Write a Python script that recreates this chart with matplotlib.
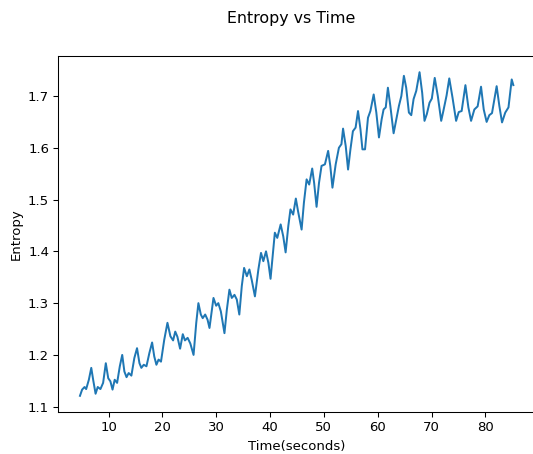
import matplotlib
matplotlib.use("Agg")
import matplotlib.pyplot as plt

time_s = [
    4.7, 5.1, 5.55, 5.85, 6.35, 6.8, 7.15, 7.6, 8.0, 8.5, 9.0, 9.5, 9.95, 10.35, 10.75,
    11.15, 11.6, 12.1, 12.55, 12.95, 13.35, 13.75, 14.25, 14.8, 15.3, 15.75, 16.1, 16.55,
    17.05, 17.6, 18.1, 18.5, 18.9, 19.3, 19.75, 20.35, 20.95, 21.5, 22.0, 22.4, 22.8,
    23.3, 23.8, 24.2, 24.7, 25.2, 25.8, 26.3, 26.7, 27.15, 27.5, 27.96, 28.4, 28.76,
    29.2, 29.5, 30.0, 30.4, 30.87, 31.54, 31.98, 32.46, 32.9, 33.4, 33.83, 34.3, 34.76,
    35.19, 35.7, 36.17, 36.6, 37.2, 37.84, 38.33, 38.76, 39.26, 39.7, 40.1, 40.6, 40.9,
    41.35, 41.98, 42.46, 42.9, 43.4, 43.8, 44.3, 44.8, 45.2, 45.87, 46.3, 46.8, 47.28,
    47.84, 48.2, 48.65, 49.1, 49.57, 50.2, 50.8, 51.2, 51.6, 52.2, 52.8, 53.27, 53.57,
    54.07, 54.5, 54.94, 55.4, 55.9, 56.35, 56.8, 57.17, 57.65, 58.2, 58.65, 59.26,
    59.75, 60.24, 60.74, 61.1, 61.5, 61.9, 62.35, 62.96, 63.46, 63.95, 64.4, 64.87,
    65.3, 65.8, 66.24, 66.67, 67.17, 67.78, 68.27, 68.7, 69.13, 69.63, 70.06, 70.6,
    71.17, 71.8, 72.2, 72.8, 73.3, 73.9, 74.57, 75.06, 75.6, 76.3, 76.85, 77.35, 77.96,
    78.57, 79.2, 79.7, 80.24, 80.74, 81.24, 82.1, 82.6, 83.1, 83.7, 84.3, 84.9, 85.2,
]

entropy = [
    1.121, 1.133, 1.138, 1.134, 1.152, 1.175, 1.152, 1.125, 1.138, 1.134, 1.146, 1.184, 1.155, 1.149, 1.133,
    1.152, 1.146, 1.178, 1.200, 1.168, 1.157, 1.165, 1.160, 1.194, 1.213, 1.184, 1.175, 1.181,
    1.178, 1.204, 1.224, 1.197, 1.181, 1.191, 1.187, 1.229, 1.262, 1.236, 1.228, 1.245, 1.235,
    1.212, 1.240, 1.228, 1.233, 1.222, 1.200, 1.262, 1.300, 1.278, 1.271, 1.278, 1.268, 1.252,
    1.287, 1.310, 1.295, 1.300, 1.284, 1.242, 1.287, 1.326, 1.310, 1.316, 1.307, 1.278, 1.333,
    1.368, 1.352, 1.365, 1.345, 1.313, 1.365, 1.397, 1.381, 1.400, 1.378, 1.347, 1.403, 1.436,
    1.426, 1.452, 1.429, 1.398, 1.449, 1.481, 1.471, 1.502, 1.478, 1.442, 1.494, 1.539, 1.529,
    1.560, 1.532, 1.486, 1.532, 1.565, 1.568, 1.594, 1.565, 1.523, 1.568, 1.600, 1.607, 1.637,
    1.603, 1.558, 1.597, 1.632, 1.639, 1.671, 1.636, 1.597, 1.597, 1.658, 1.671, 1.703,
    1.668, 1.620, 1.655, 1.674, 1.678, 1.716, 1.681, 1.628, 1.655, 1.681, 1.700, 1.739,
    1.716, 1.668, 1.663, 1.694, 1.710, 1.746, 1.706, 1.652, 1.665, 1.687, 1.695, 1.735,
    1.700, 1.652, 1.671, 1.701, 1.734, 1.697, 1.652, 1.669, 1.671, 1.721, 1.678, 1.652, 1.674,
    1.680, 1.718, 1.674, 1.650, 1.663, 1.667, 1.719, 1.681, 1.649, 1.668, 1.678, 1.732, 1.721,
]

DPI = 95
fig = plt.figure(figsize=(533 / DPI, 454 / DPI), dpi=DPI)
ax = fig.add_axes([58.3 / 533, 42 / 454, (535 - 58.3) / 533, 356 / 454])
ax.plot(time_s, entropy, color="#1f77b4", linewidth=1.5)
ax.set_xticks([10, 20, 30, 40, 50, 60, 70, 80])
ax.set_yticks([1.1, 1.2, 1.3, 1.4, 1.5, 1.6, 1.7])
ax.set_xlabel("Time(seconds)")
ax.set_ylabel("Entropy")
fig.text(291 / 533, 1 - 18 / 454, "Entropy vs Time", ha="center", va="center", fontsize=12)
fig.savefig("out.png", dpi=DPI)
